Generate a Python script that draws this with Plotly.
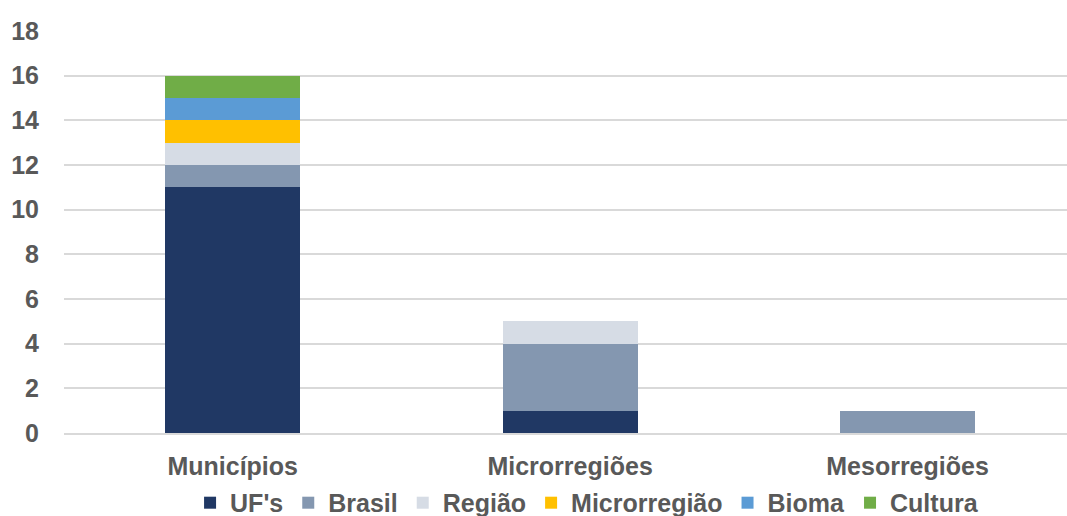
import plotly.graph_objects as go

categories = ["Municípios", "Microrregiões", "Mesorregiões"]
series_names = ["UF's", "Brasil", "Região", "Microrregião", "Bioma", "Cultura"]
ufs = [11, 1, 0]
brasil = [1, 3, 1]
regiao = [1, 1, 0]
microrregiao = [1, 0, 0]
bioma = [1, 0, 0]
cultura = [1, 0, 0]
y_ticks = [0, 2, 4, 6, 8, 10, 12, 14, 16, 18]

series_values = [ufs, brasil, regiao, microrregiao, bioma, cultura]
colors = ["#203864", "#8497b0", "#d6dce5", "#ffc000", "#5b9bd5", "#70ad47"]

FONT = "Liberation Sans"
TEXT = "#595959"
SIZE = 25

fig = go.Figure()
for name, vals, col in zip(series_names, series_values, colors):
    fig.add_trace(go.Bar(
        x=categories, y=vals, name=name, marker_color=col,
        marker_line_width=0, width=0.4,
    ))

fig.update_layout(
    barmode="stack",
    width=1067, height=516,
    margin=dict(l=64, r=0, t=31, b=83, autoexpand=False),
    plot_bgcolor="white", paper_bgcolor="white",
    font=dict(family=FONT, size=SIZE, color=TEXT),
    xaxis=dict(
        range=[-0.5, 2.4726], showgrid=False, showline=True,
        linecolor="#d9d9d9", linewidth=2, ticks="",
        ticklabelstandoff=10,
        tickfont=dict(family=FONT, size=SIZE, color=TEXT, weight="bold"),
    ),
    yaxis=dict(
        range=[0, 18], tickvals=y_ticks, showgrid=True, gridcolor="#d9d9d9",
        gridwidth=2, zeroline=False, showline=False, ticks="",
        ticklabelstandoff=24,
        tickfont=dict(family=FONT, size=SIZE, color=TEXT, weight="bold"),
    ),
    legend=dict(
        orientation="h", x=0.5215, xanchor="center", y=-0.174, yanchor="middle",
        font=dict(family=FONT, size=SIZE, color=TEXT, weight="bold"),
        itemwidth=30, tracegroupgap=0, traceorder="normal",
    ),
)

fig.write_html("out.html")
